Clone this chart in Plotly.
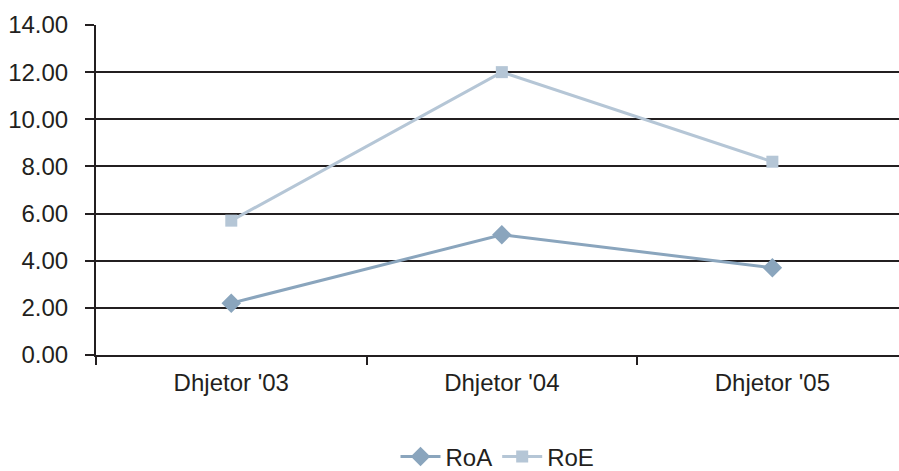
import plotly.graph_objects as go

categories = ["Dhjetor '03", "Dhjetor '04", "Dhjetor '05"]
roa = [2.2, 5.1, 3.7]
roe = [5.7, 12.0, 8.2]
y_ticks = [0, 2, 4, 6, 8, 10, 12, 14]
y_labels = ["0.00", "2.00", "4.00", "6.00", "8.00", "10.00", "12.00", "14.00"]

FONT = "Liberation Sans, Arial, sans-serif"
TEXT = "#231f20"

fig = go.Figure()
fig.add_trace(go.Scatter(
    x=categories, y=roa, name="RoA", mode="lines+markers",
    line=dict(color="#8aa5bd", width=3),
    marker=dict(symbol="diamond", size=15, color="#8aa5bd"),
))
fig.add_trace(go.Scatter(
    x=categories, y=roe, name="RoE", mode="lines+markers",
    line=dict(color="#b5c6d6", width=3),
    marker=dict(symbol="square", size=12, color="#b5c6d6"),
))

fig.update_layout(
    width=899, height=471,
    margin=dict(l=96, r=0, t=25, b=116),
    paper_bgcolor="white", plot_bgcolor="white",
    font=dict(family=FONT, size=24, color=TEXT),
    showlegend=True,
    legend=dict(orientation="h", x=0.5, xanchor="center",
                yref="container", y=0.03, yanchor="middle",
                font=dict(size=24, color=TEXT), itemwidth=40,
                tracegroupgap=0),
    xaxis=dict(
        type="category", range=[-0.5, 2.468],
        showline=True, linecolor=TEXT, linewidth=2,
        ticks="outside", ticklen=8, tickwidth=2, tickcolor=TEXT,
        tickson="boundaries", showgrid=False, zeroline=False,
        ticklabelstandoff=5,
    ),
    yaxis=dict(
        range=[0, 14], tickvals=y_ticks, ticktext=y_labels,
        showline=True, linecolor=TEXT, linewidth=2,
        ticks="outside", ticklen=9, tickwidth=2, tickcolor=TEXT,
        showgrid=True, gridcolor=TEXT, gridwidth=2, zeroline=False,
        ticklabelstandoff=12,
    ),
)

fig.write_html("out.html")
